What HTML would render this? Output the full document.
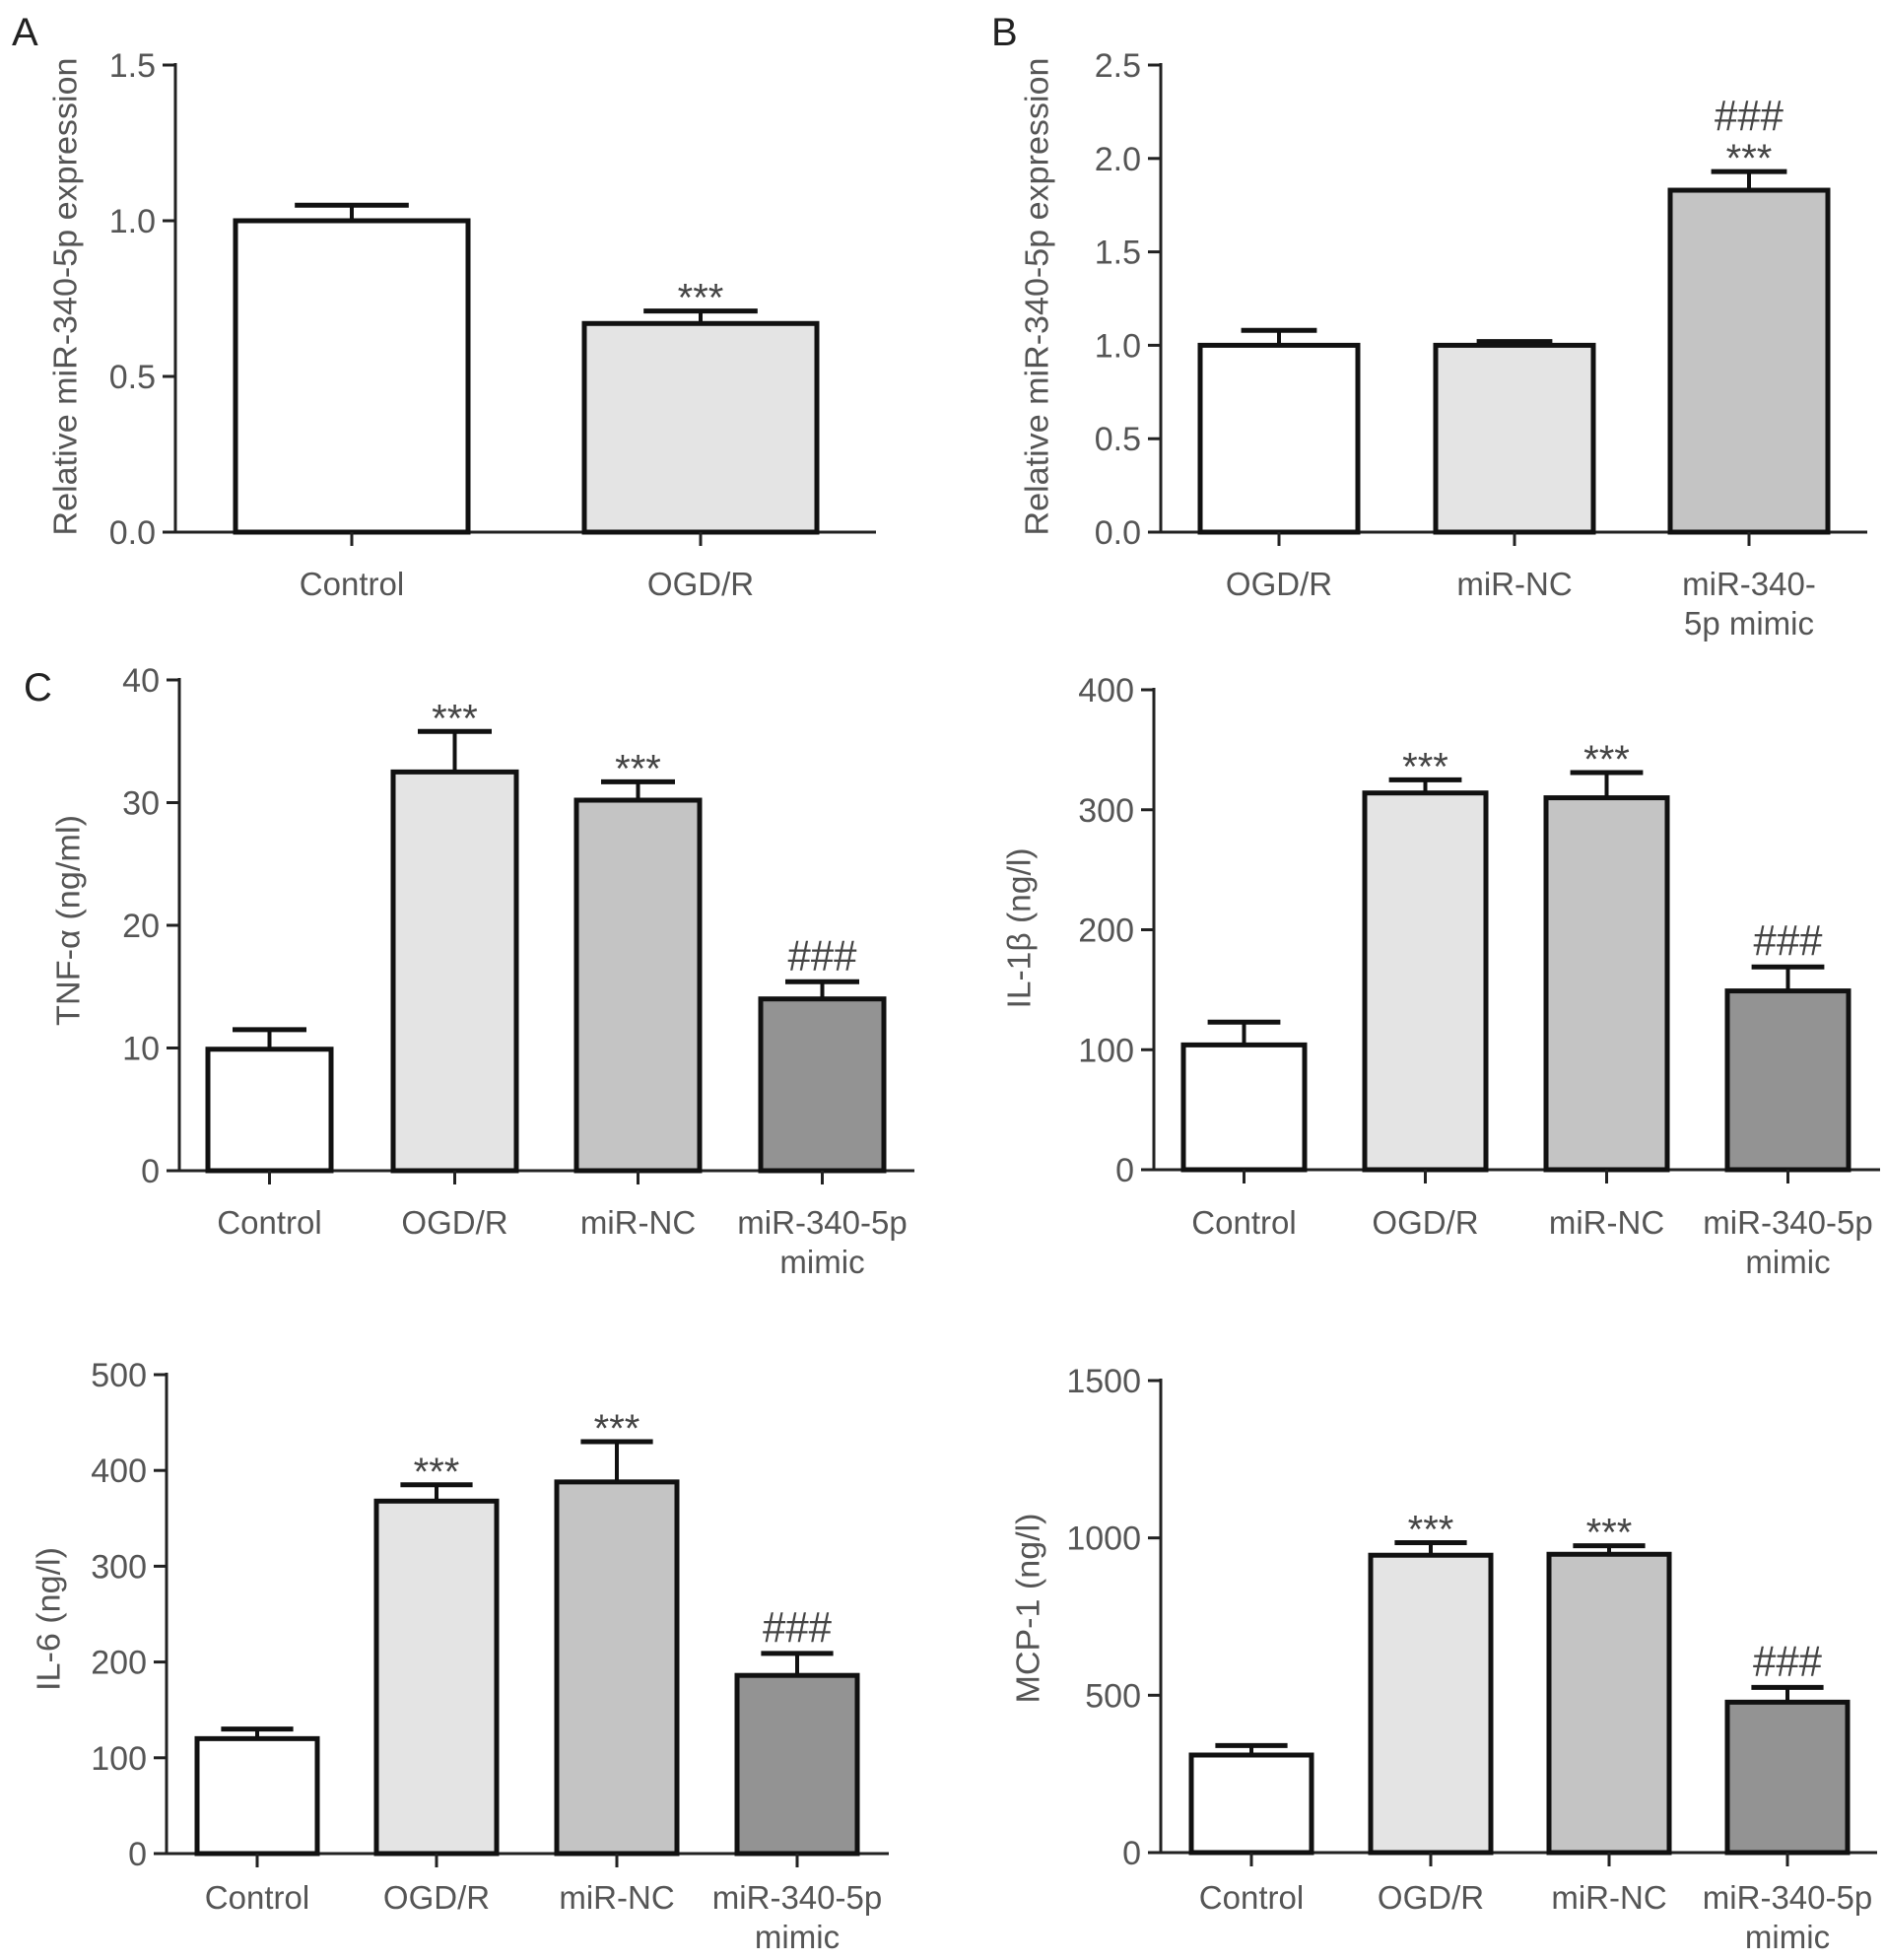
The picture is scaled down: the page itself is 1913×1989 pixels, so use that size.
<!DOCTYPE html>
<html><head><meta charset="utf-8"><style>
html,body{margin:0;padding:0;background:#fff;}
svg{display:block;font-family:"Liberation Sans",sans-serif;}
</style></head><body>
<svg id="fig" width="1913" height="1989" viewBox="0 0 1913 1989"></svg>
<script>
// Panel A
const aCats = ["Control", "OGD/R"];
const aVals = [1.0, 0.67];
const aErrs = [0.05, 0.04];
const aMarks = ["", "***"];
const aTicks = ["0.0", "0.5", "1.0", "1.5"];
// Panel B
const bCats = [["OGD/R"], ["miR-NC"], ["miR-340-", "5p mimic"]];
const bVals = [1.0, 1.0, 1.83];
const bErrs = [0.08, 0.02, 0.1];
const bMarks = ["", "", "***"];
const bHash = ["", "", "###"];
const bTicks = ["0.0", "0.5", "1.0", "1.5", "2.0", "2.5"];
// Panel C
const cCats = [["Control"], ["OGD/R"], ["miR-NC"], ["miR-340-5p", "mimic"]];
const tnfVals = [9.9, 32.5, 30.2, 14.0];
const tnfErrs = [1.6, 3.3, 1.5, 1.4];
const tnfTicks = ["0", "10", "20", "30", "40"];
const il1Vals = [104, 314, 310, 149];
const il1Errs = [19, 11, 21, 20];
const il1Ticks = ["0", "100", "200", "300", "400"];
const il6Vals = [120, 368, 388, 186];
const il6Errs = [10, 17, 42, 23];
const il6Ticks = ["0", "100", "200", "300", "400", "500"];
const mcpVals = [310, 945, 948, 478];
const mcpErrs = [30, 40, 27, 47];
const mcpTicks = ["0", "500", "1000", "1500"];
const cMarks = ["", "***", "***", ""];
const cHash = ["", "", "", "###"];
const fills4 = ["#ffffff", "#e4e4e4", "#c4c4c4", "#939393"];

const svg = document.getElementById('fig');
const NS = "http://www.w3.org/2000/svg";
function mk(tag, attrs, parent) {
  const e = document.createElementNS(NS, tag);
  for (const k in attrs) e.setAttribute(k, attrs[k]);
  (parent || svg).appendChild(e);
  return e;
}
function txt(str, attrs, parent) { const t = mk('text', attrs, parent); t.textContent = str; return t; }

function panel(p) {
  const g = mk('g', {});
  
  
  const ymax = parseFloat(p.ticks[p.ticks.length - 1]);
  const y = v => p.y0 - (v / ymax) * (p.y0 - p.yTop);
  const ax = mk('line', {x1: p.ax, y1: p.yTop - 2, x2: p.ax, y2: p.y0, stroke: '#222', 'stroke-width': 3}, g);
  
  
  p.ticks.forEach(tk => {
    const yy = y(parseFloat(tk));
    mk('line', {x1: p.ax - 13, y1: yy, x2: p.ax, y2: yy, stroke: '#222', 'stroke-width': 3}, g);
    const t = txt(tk, {x: p.ax - 20, y: yy + 12, 'text-anchor': 'end', 'font-size': 34, fill: '#555'}, g);
    
    
  });
  const xa = mk('line', {x1: p.xa0, y1: p.y0, x2: p.xa1, y2: p.y0, stroke: '#222', 'stroke-width': 3}, g);
  
  
  const yt = txt(p.ytitle, {x: 0, y: 0, transform: `translate(${p.ytx},${p.yty}) rotate(-90)`, 'text-anchor': 'middle', 'dominant-baseline': 'central', 'font-size': 33, fill: '#555', textLength: p.ytLen, lengthAdjust: 'spacingAndGlyphs'}, g);
  
  
  p.vals.forEach((v, i) => {
    const x0 = p.bx[i], w = p.bw, cx = x0 + w / 2;
    const top = y(v), et = y(v + p.errs[i]);
    const ev = mk('line', {x1: cx, y1: top, x2: cx, y2: et, stroke: '#111', 'stroke-width': 4}, g);
    
    
    const cw = w * p.capF;
    mk('line', {x1: cx - cw / 2, y1: et, x2: cx + cw / 2, y2: et, stroke: '#111', 'stroke-width': 5}, g);
    const r = mk('rect', {x: x0, y: top, width: w, height: p.y0 - top, fill: p.fills[i], stroke: '#111', 'stroke-width': 5}, g);
    
    
    mk('line', {x1: cx, y1: p.y0, x2: cx, y2: p.y0 + 14, stroke: '#222', 'stroke-width': 3}, g);
    const lines = Array.isArray(p.cats[i]) ? p.cats[i] : [p.cats[i]];
    lines.forEach((ln, j) => {
      const t = txt(ln, {x: cx, y: p.labY + j * p.labDy + 12, 'text-anchor': 'middle', 'font-size': 33, fill: '#555'}, g);
      
      
    });
    let ay = et - 16;
    if (p.marks[i]) {
      const t = txt(p.marks[i], {x: cx, y: ay + 16, 'text-anchor': 'middle', 'font-size': 40, fill: '#444'}, g);
      
      
      ay -= 30;
    }
    if (p.hash && p.hash[i]) {
      const t = txt(p.hash[i], {x: cx, y: ay + 4, 'text-anchor': 'middle', 'font-size': 44, fill: '#444', textLength: 70, lengthAdjust: 'spacingAndGlyphs'}, g);
      
      
    }
  });
}

panel({name: 'panel-a-chart', ticks: aTicks, vals: aVals, errs: aErrs, cats: aCats, marks: aMarks, fills: ['#fff', '#e4e4e4'],
  ax: 178, yTop: 66, y0: 540, xa0: 166, xa1: 889, bx: [239, 593], bw: 236, capF: 0.49, labY: 592, labDy: 40,
  ytitle: 'Relative miR-340-5p expression', ytx: 66, yty: 301, ytLen: 485});
panel({name: 'panel-b-chart', ticks: bTicks, vals: bVals, errs: bErrs, cats: bCats, marks: bMarks, hash: bHash, fills: ['#fff', '#e4e4e4', '#c4c4c4'],
  ax: 1178, yTop: 66, y0: 540, xa0: 1166, xa1: 1895, bx: [1218, 1457, 1695], bw: 160, capF: 0.48, labY: 592, labDy: 40,
  ytitle: 'Relative miR-340-5p expression', ytx: 1052, yty: 301, ytLen: 485});
panel({name: 'tnf-alpha-chart', ticks: tnfTicks, vals: tnfVals, errs: tnfErrs, cats: cCats, marks: cMarks, hash: cHash, fills: fills4,
  ax: 182, yTop: 690, y0: 1188, xa0: 169, xa1: 928, bx: [211, 399, 585, 772], bw: 125, capF: 0.6, labY: 1240, labDy: 40,
  ytitle: 'TNF-α (ng/ml)', ytx: 69, yty: 934, ytLen: 214});
panel({name: 'il-1beta-chart', ticks: il1Ticks, vals: il1Vals, errs: il1Errs, cats: cCats, marks: cMarks, hash: cHash, fills: fills4,
  ax: 1171, yTop: 700, y0: 1187, xa0: 1158, xa1: 1908, bx: [1201, 1385, 1569, 1753], bw: 123, capF: 0.6, labY: 1240, labDy: 40,
  ytitle: 'IL-1β (ng/l)', ytx: 1034, yty: 942, ytLen: 163});
panel({name: 'il-6-chart', ticks: il6Ticks, vals: il6Vals, errs: il6Errs, cats: cCats, marks: cMarks, hash: cHash, fills: fills4,
  ax: 169, yTop: 1395, y0: 1881, xa0: 159, xa1: 902, bx: [200, 382, 565, 748], bw: 122, capF: 0.6, labY: 1925, labDy: 40,
  ytitle: 'IL-6 (ng/l)', ytx: 49, yty: 1643, ytLen: 146});
panel({name: 'mcp-1-chart', ticks: mcpTicks, vals: mcpVals, errs: mcpErrs, cats: cCats, marks: cMarks, hash: cHash, fills: fills4,
  ax: 1178, yTop: 1401, y0: 1880, xa0: 1167, xa1: 1905, bx: [1209, 1391, 1572, 1753], bw: 122, capF: 0.6, labY: 1925, labDy: 40,
  ytitle: 'MCP-1 (ng/l)', ytx: 1043, yty: 1632, ytLen: 193});

[['A', 12, 46], ['B', 1006, 46], ['C', 24, 711]].forEach(([s, x, yy]) => {
  const t = txt(s, {x: x, y: yy, 'font-size': 40, fill: '#222'});
  
  
});
</script>
</body></html>
